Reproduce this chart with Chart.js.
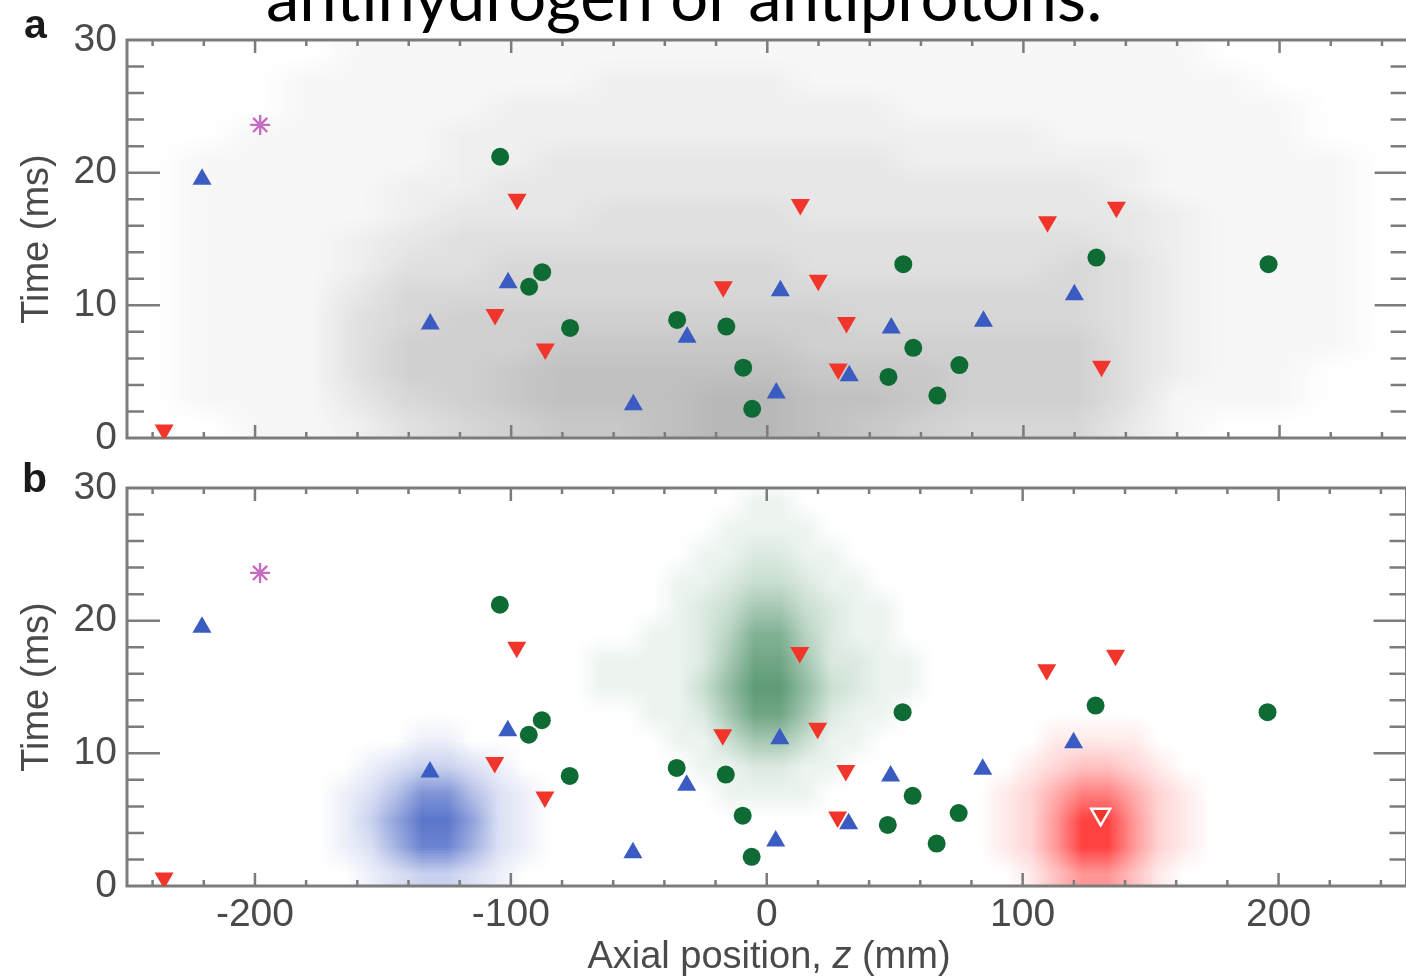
<!DOCTYPE html>
<html>
<head>
<meta charset="utf-8">
<script src="https://cdn.jsdelivr.net/npm/chart.js@4.4.1/dist/chart.umd.min.js"></script>
<style>
    html, body { margin: 0; padding: 0; background: #fff; overflow: hidden; }
    body { width: 1406px; height: 978px; position: relative; }
    canvas { position: absolute; left: 0; }
    #panelA { top: 0; }
    #panelB { top: 450px; }
    .headline {
        position: absolute; left: 266px; top: -38px; white-space: nowrap;
        font-family: Lato, "Open Sans", sans-serif; font-size: 67px; line-height: 66px; color: #000;
        z-index: 2;
    }
    .tag {
        position: absolute; font-family: "Liberation Sans", Arial, sans-serif; font-weight: bold;
        font-size: 41px; line-height: 41px; color: #1a1a1a; z-index: 2;
    }
    .xtitle {
        position: absolute; left: 0; width: 1538px; text-align: center; top: 933px;
        font-family: "Liberation Sans", Arial, sans-serif; font-size: 38px; line-height: 44px; color: #4a4a4a;
        z-index: 2;
    }
</style>
</head>
<body>
<div class="headline">antihydrogen or antiprotons:</div>
<div class="tag" style="left:24px; top:4px;">a</div>
<div class="tag" style="left:22px; top:458px;">b</div>
<canvas id="panelA" width="1420" height="470"></canvas>
<canvas id="panelB" width="1420" height="528"></canvas>
<div class="xtitle">Axial position, <i>z</i> (mm)</div>
<script>
// annihilation events (same set in both panels)
const greenX = [-104.3, -87.9, -93.0, -77.0, -35.2, -16.0, -9.4, -5.9, 53.1, 57.0, 47.3, 66.4, 75.0, 128.5, 195.7];
const greenY = [21.2, 12.5, 11.4, 8.3, 8.9, 8.4, 5.3, 2.2, 13.1, 6.8, 4.6, 3.2, 5.5, 13.6, 13.1];
const redX = [-235.5, -97.7, -106.3, -86.7, 12.9, -17.2, 19.9, 30.9, 27.7, 109.4, 136.3, 130.5];
const redY = [0.6, 18.0, 9.3, 6.7, 17.6, 11.4, 11.9, 8.7, 5.2, 16.3, 17.4, 5.4];
const blueX = [-220.7, -101.2, -131.6, -31.3, -52.3, 5.1, 3.5, 32.0, 48.4, 84.4, 119.9];
const blueY = [19.5, 11.7, 8.6, 7.6, 2.5, 11.1, 3.4, 4.7, 8.3, 8.8, 10.8];
const starX = [-198];
const starY = [23.6];

const xTickValues = [-200, -100, 0, 100, 200];
const yTickValues = [0, 10, 20, 30];

// simulated background, panel a: relative density (0-9), 20 mm x 2 ms cells
const cloudACols = [-240, -220, -200, -180, -160, -140, -120, -100, -80, -60, -40, -20, 0, 20, 40, 60, 80, 100, 120, 140, 160, 180, 200, 220, 240];
const cloudARows = [29, 27, 25, 23, 21, 19, 17, 15, 13, 11, 9, 7, 5, 3, 1];
const cloudA = [
    [0, 0, 0, 0, 1, 1, 1, 1, 1, 1, 1, 1, 1, 1, 1, 1, 1, 1, 1, 1, 1, 0, 0, 0, 0],
    [0, 0, 0, 1, 1, 1, 1, 1, 1, 2, 2, 2, 2, 1, 1, 1, 1, 1, 1, 1, 1, 1, 0, 0, 0],
    [0, 0, 0, 1, 1, 1, 1, 2, 2, 2, 2, 2, 2, 2, 2, 1, 1, 1, 1, 1, 1, 1, 1, 0, 0],
    [0, 0, 1, 1, 1, 1, 2, 2, 2, 2, 2, 2, 2, 2, 2, 2, 2, 2, 1, 1, 1, 1, 1, 0, 0],
    [0, 1, 1, 1, 1, 1, 2, 2, 3, 3, 3, 3, 3, 3, 3, 2, 2, 2, 2, 2, 1, 1, 1, 1, 0],
    [0, 1, 1, 1, 1, 2, 2, 3, 3, 3, 3, 3, 3, 3, 3, 3, 3, 3, 3, 2, 1, 1, 1, 1, 0],
    [0, 1, 1, 1, 1, 2, 3, 3, 3, 4, 4, 4, 4, 3, 3, 3, 3, 3, 3, 3, 2, 1, 1, 1, 0],
    [0, 1, 1, 1, 2, 3, 4, 4, 4, 4, 4, 4, 4, 4, 4, 4, 4, 4, 4, 3, 2, 1, 1, 1, 0],
    [0, 1, 1, 1, 2, 4, 4, 5, 5, 5, 5, 5, 5, 4, 4, 4, 4, 4, 5, 4, 2, 1, 1, 1, 0],
    [0, 1, 1, 1, 3, 5, 5, 5, 5, 5, 5, 5, 5, 5, 5, 5, 5, 5, 5, 4, 2, 1, 1, 1, 0],
    [0, 1, 1, 1, 4, 5, 6, 6, 6, 6, 6, 6, 6, 6, 5, 5, 5, 5, 5, 4, 2, 1, 1, 1, 0],
    [0, 1, 1, 1, 4, 6, 6, 6, 7, 7, 7, 7, 7, 6, 6, 6, 6, 6, 6, 4, 2, 1, 1, 1, 0],
    [0, 1, 1, 1, 4, 6, 6, 7, 8, 8, 8, 8, 8, 7, 7, 7, 6, 6, 6, 4, 2, 1, 1, 0, 0],
    [0, 1, 1, 1, 3, 5, 6, 7, 8, 8, 8, 9, 9, 8, 8, 7, 6, 6, 6, 4, 1, 1, 1, 0, 0],
    [0, 0, 1, 1, 2, 4, 5, 6, 7, 7, 8, 9, 9, 8, 7, 6, 5, 5, 5, 3, 1, 0, 0, 0, 0],
];

// panel b: antiproton (blue), antihydrogen (green) and mirror-trapped (red) distributions
const blueCols = [-185, -175, -165, -155, -145, -135, -125, -115, -105, -95, -85, -75];
const blueRows = [13, 11, 9, 7, 5, 3, 1];
const blueCloud = [
    [0, 0, 0, 0, 0, 0, 0, 0, 0, 0, 0, 0],
    [0, 0, 0, 0, 0, 1, 1, 0, 0, 0, 0, 0],
    [0, 0, 0, 1, 2, 3, 3, 2, 1, 0, 0, 0],
    [0, 0, 1, 2, 4, 7, 7, 4, 2, 1, 0, 0],
    [0, 0, 1, 3, 6, 9, 9, 6, 2, 1, 0, 0],
    [0, 0, 1, 2, 5, 8, 8, 5, 2, 1, 0, 0],
    [0, 0, 0, 1, 2, 3, 3, 2, 1, 0, 0, 0],
];
const greenCols = [-85, -75, -65, -55, -45, -35, -25, -15, -5, 5, 15, 25, 35, 45, 55, 65, 75];
const greenRows = [31, 29, 27, 25, 23, 21, 19, 17, 15, 13, 11, 9, 7, 5];
const greenCloud = [
    [0, 0, 0, 0, 0, 0, 0, 0, 0, 0, 0, 0, 0, 0, 0, 0, 0],
    [0, 0, 0, 0, 0, 0, 0, 0, 1, 1, 0, 0, 0, 0, 0, 0, 0],
    [0, 0, 0, 0, 0, 0, 0, 1, 1, 1, 1, 0, 0, 0, 0, 0, 0],
    [0, 0, 0, 0, 0, 0, 1, 1, 2, 2, 1, 1, 0, 0, 0, 0, 0],
    [0, 0, 0, 0, 0, 1, 1, 2, 3, 3, 2, 1, 1, 0, 0, 0, 0],
    [0, 0, 0, 0, 0, 1, 2, 3, 5, 5, 3, 2, 1, 1, 0, 0, 0],
    [0, 0, 0, 0, 1, 1, 2, 4, 7, 7, 4, 2, 1, 1, 0, 0, 0],
    [0, 0, 1, 1, 1, 1, 2, 5, 8, 8, 5, 2, 2, 1, 1, 0, 0],
    [0, 0, 1, 1, 1, 1, 3, 6, 9, 9, 6, 3, 2, 1, 1, 0, 0],
    [0, 0, 0, 0, 1, 1, 2, 5, 8, 8, 5, 2, 1, 1, 0, 0, 0],
    [0, 0, 0, 0, 0, 1, 1, 3, 5, 5, 3, 1, 1, 0, 0, 0, 0],
    [0, 0, 0, 0, 0, 0, 1, 1, 2, 2, 1, 1, 0, 0, 0, 0, 0],
    [0, 0, 0, 0, 0, 0, 0, 1, 1, 1, 1, 0, 0, 0, 0, 0, 0],
    [0, 0, 0, 0, 0, 0, 0, 0, 0, 0, 0, 0, 0, 0, 0, 0, 0],
];
const redCols = [73, 83, 93, 103, 113, 123, 133, 143, 153, 163, 173, 183];
const redRows = [13, 11, 9, 7, 5, 3, 1];
const redCloud = [
    [0, 0, 0, 0, 0, 0, 0, 0, 0, 0, 0, 0],
    [0, 0, 0, 0, 1, 1, 1, 1, 0, 0, 0, 0],
    [0, 0, 0, 1, 2, 3, 3, 2, 1, 0, 0, 0],
    [0, 0, 1, 2, 4, 6, 6, 4, 2, 1, 0, 0],
    [0, 0, 1, 2, 5, 9, 9, 5, 2, 1, 0, 0],
    [0, 0, 1, 2, 5, 9, 9, 5, 2, 1, 0, 0],
    [0, 0, 0, 1, 3, 5, 5, 3, 1, 0, 0, 0],
];

const colors = {
    green: "#0e6b34",
    red: "#f2352a",
    blue: "#3a5cc2",
    star: "#c66cc2",
    axis: "#7c7c7c",
    text: "#4a4a4a",
};
const outlinedRed = 11;

const densityPlugin = {
    id: "density",
    beforeDatasetsDraw(chart, args, opts) {
        const { ctx, chartArea, scales: { x, y } } = chart;
        ctx.save();
        ctx.beginPath();
        ctx.rect(chartArea.left, chartArea.top, chartArea.width, chartArea.height);
        ctx.clip();
        (opts.clouds || []).forEach((c) => {
            const nx = c.cols.length;
            const ny = c.rows.length;
            const off = document.createElement("canvas");
            off.width = nx;
            off.height = ny;
            const octx = off.getContext("2d");
            const img = octx.createImageData(nx, ny);
            c.levels.forEach((row, j) =>
                row.forEach((v, i) => {
                    const k = (j * nx + i) * 4;
                    img.data[k] = c.rgb[0];
                    img.data[k + 1] = c.rgb[1];
                    img.data[k + 2] = c.rgb[2];
                    img.data[k + 3] = Math.round((255 * c.alpha * v) / 9);
                })
            );
            octx.putImageData(img, 0, 0);
            const hx = (c.cols[1] - c.cols[0]) / 2;
            const hy = (c.rows[0] - c.rows[1]) / 2;
            const left = x.getPixelForValue(c.cols[0] - hx);
            const right = x.getPixelForValue(c.cols[nx - 1] + hx);
            const top = y.getPixelForValue(c.rows[0] + hy);
            const bottom = y.getPixelForValue(c.rows[ny - 1] - hy);
            ctx.imageSmoothingEnabled = true;
            ctx.imageSmoothingQuality = "low";
            ctx.drawImage(off, left, top, right - left, bottom - top);
        });
        ctx.restore();
    },
};

// boxed frame with inward ticks on all four sides
const framePlugin = {
    id: "frame",
    beforeDatasetsDraw(chart) {
        const { ctx, chartArea: a, scales: { x, y } } = chart;
        ctx.save();
        ctx.strokeStyle = colors.axis;
        ctx.lineWidth = 3;
        ctx.strokeRect(a.left, a.top, a.width, a.height);
        ctx.lineWidth = 2.5;
        ctx.beginPath();
        for (let v = -240; v <= 240; v += 20) {
            const px = x.getPixelForValue(v);
            const len = v % 100 === 0 ? 13 : 6;
            ctx.moveTo(px, a.top);
            ctx.lineTo(px, a.top + len);
            ctx.moveTo(px, a.bottom);
            ctx.lineTo(px, a.bottom - len);
        }
        for (let v = 2; v < 30; v += 2) {
            const py = y.getPixelForValue(v);
            const len = v % 10 === 0 ? 33 : 17;
            ctx.moveTo(a.left, py);
            ctx.lineTo(a.left + len, py);
            ctx.moveTo(a.right, py);
            ctx.lineTo(a.right - len, py);
        }
        ctx.stroke();
        ctx.restore();
    },
};

function toPoints(xs, ys) {
    return xs.map((v, i) => ({ x: v, y: ys[i] }));
}

function eventDatasets(outline) {
    return [
        {
            data: toPoints(greenX, greenY),
            pointStyle: "circle",
            pointRadius: 9,
            backgroundColor: colors.green,
            borderColor: colors.green,
            borderWidth: 0,
        },
        {
            data: toPoints(redX, redY),
            pointStyle: "triangle",
            rotation: 180,
            pointRadius: 11,
            backgroundColor: colors.red,
            borderColor: (ctx) => (outline && ctx.dataIndex === outlinedRed ? "#ffffff" : colors.red),
            borderWidth: (ctx) => (outline && ctx.dataIndex === outlinedRed ? 2.5 : 0),
        },
        {
            data: toPoints(blueX, blueY),
            pointStyle: "triangle",
            pointRadius: 11,
            backgroundColor: colors.blue,
            borderColor: colors.blue,
            borderWidth: 0,
        },
        {
            data: toPoints(starX, starY),
            pointStyle: "star",
            pointRadius: 10,
            backgroundColor: colors.star,
            borderColor: colors.star,
            borderWidth: 2.4,
        },
    ];
}

function panelOptions(showXLabels, padding, xHeight, clouds) {
    return {
        responsive: false,
        animation: false,
        events: [],
        layout: { padding },
        plugins: {
            legend: { display: false },
            tooltip: { enabled: false },
            density: { clouds },
        },
        scales: {
            x: {
                type: "linear",
                min: -250,
                max: 250,
                grid: { display: false, drawTicks: false },
                border: { display: false },
                ticks: {
                    display: showXLabels,
                    color: colors.text,
                    font: { family: "'Liberation Sans', Arial, sans-serif", size: 39 },
                    padding: 6,
                    maxRotation: 0,
                    autoSkip: false,
                    callback: (v) => (v < 0 ? "-" + Math.abs(v) : String(v)),
                },
                afterBuildTicks: (s) => {
                    s.ticks = xTickValues.map((v) => ({ value: v }));
                },
                afterFit: (s) => {
                    s.height = xHeight;
                    s.paddingLeft = 0;
                    s.paddingRight = 0;
                },
            },
            y: {
                type: "linear",
                min: 0,
                max: 30,
                grid: { display: false, drawTicks: false },
                border: { display: false },
                ticks: {
                    color: colors.text,
                    font: { family: "'Liberation Sans', Arial, sans-serif", size: 39 },
                    padding: 10,
                },
                title: {
                    display: true,
                    text: "Time (ms)",
                    color: colors.text,
                    font: { family: "'Liberation Sans', Arial, sans-serif", size: 38 },
                    padding: { top: 15, bottom: 0 },
                },
                afterBuildTicks: (s) => {
                    s.ticks = yTickValues.map((v) => ({ value: v }));
                },
                afterFit: (s) => {
                    s.width = 127;
                    s.paddingTop = 0;
                    s.paddingBottom = 0;
                },
            },
        },
    };
}

new Chart(document.getElementById("panelA"), {
    type: "scatter",
    data: { datasets: eventDatasets(false) },
    options: panelOptions(false, { top: 40, right: 11, bottom: 32, left: 0 }, 0, [
        { cols: cloudACols, rows: cloudARows, levels: cloudA, rgb: [20, 20, 20], alpha: 0.3 },
    ]),
    plugins: [densityPlugin, framePlugin],
});

new Chart(document.getElementById("panelB"), {
    type: "scatter",
    data: { datasets: eventDatasets(true) },
    options: panelOptions(true, { top: 38, right: 11, bottom: 0, left: 0 }, 92, [
        { cols: blueCols, rows: blueRows, levels: blueCloud, rgb: [50, 82, 190], alpha: 0.8 },
        { cols: greenCols, rows: greenRows, levels: greenCloud, rgb: [40, 122, 72], alpha: 0.75 },
        { cols: redCols, rows: redRows, levels: redCloud, rgb: [255, 32, 32], alpha: 0.85 },
    ]),
    plugins: [densityPlugin, framePlugin],
});
</script>
</body>
</html>
